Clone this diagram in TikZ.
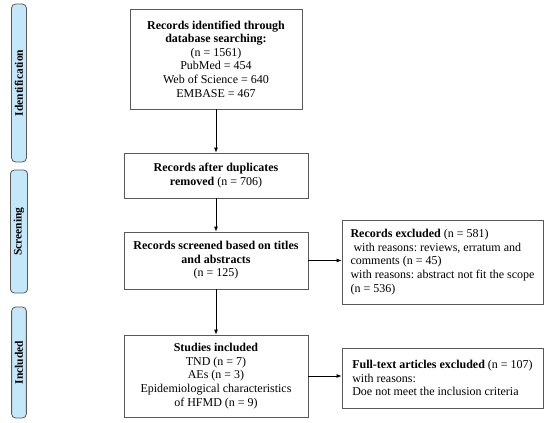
\documentclass[tikz,border=0pt]{standalone}
\usepackage{fontspec}
\setmainfont{Liberation Serif}
\usetikzlibrary{arrows.meta}
\definecolor{phaseblue}{RGB}{196,231,249}
\begin{document}
\begin{tikzpicture}[x=1pt, y=-1pt, >={Latex[length=5pt,width=4pt]},
          box/.style={draw=black!65, line width=0.8pt, align=center, inner sep=0pt,
            font=\fontsize{12}{13.6}\selectfont\frenchspacing},
          side box/.style={box, align=left, minimum width=#1},
          phase/.style={draw=black!65, line width=0.8pt, fill=phaseblue, rounded corners=4pt,
            minimum width=24pt, rotate=90, font=\fontsize{11.5}{13}\selectfont\bfseries}]
          \useasboundingbox (0,0) rectangle (550,423);
          % phases on the left
          \node[phase, minimum width=158pt] (ident) at (19,83) {Identification};
          \node[phase, minimum width=123pt] (screen) at (19,231.5) {Screening};
          \node[phase, minimum width=111pt] (incl) at (19,362.5) {Included};
          % main column
          \node[box, minimum width=172pt, minimum height=100pt] (found) at (216,59)
              {\textbf{Records identified through}\\ \textbf{database searching:}\\ (n = 1561)\\
               PubMed = 454\\ Web of Science = 640\\ EMBASE = 467};
          \node[box, minimum width=184pt, minimum height=45pt] (dedup) at (216,175.5)
              {\textbf{Records after duplicates}\\ \textbf{removed} (n = 706)};
          \node[box, minimum width=184pt, minimum height=57pt] (screened) at (216,260.5)
              {\textbf{Records screened based on titles}\\ \textbf{and abstracts}\\ (n = 125)};
          \node[box, minimum width=184pt, minimum height=82pt] (studies) at (216,376)
              {\textbf{Studies included}\\ TND (n = 7)\\ AEs (n = 3)\\
               Epidemiological characteristics\\ of HFMD (n = 9)};
          % excluded boxes
          \node[side box=201pt, minimum height=84pt] (excl) at (442.5,262)
              {\textbf{Records excluded} (n = 581)\\ \ with reasons: reviews, erratum and\\
               comments (n = 45)\\ with reasons: abstract not fit the scope\\ (n = 536)};
          \node[side box=201pt, minimum height=60pt] (fulltext) at (442.5,378)
              {\textbf{Full-text articles excluded} (n = 107)\\ with reasons:\\
               Doe not meet the inclusion criteria};
          % arrows
          \draw[thick, ->] (found) -- (dedup);
          \draw[thick, ->] (dedup) -- (screened);
          \draw[thick, ->] (screened) -- (studies);
          \draw[thick, ->] (screened) -- (excl.west |- screened);
          \draw[thick, ->] (studies) -- (fulltext.west |- studies);
\end{tikzpicture}
\end{document}
